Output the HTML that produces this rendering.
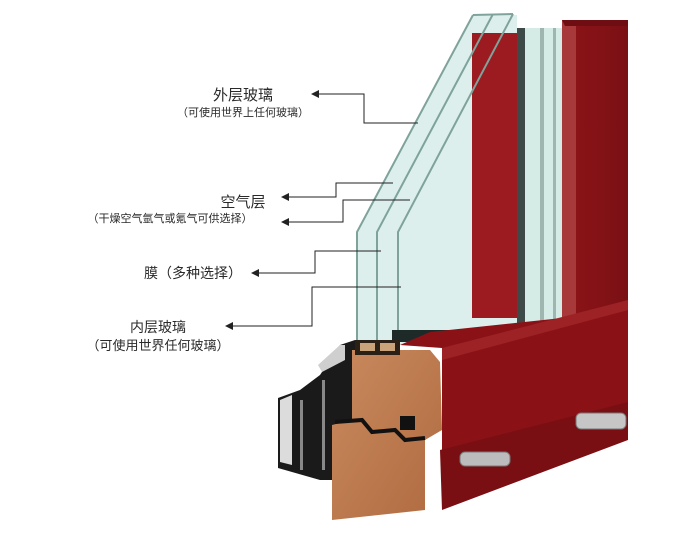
<!DOCTYPE html>
<html><head><meta charset="utf-8"><style>
html,body{margin:0;padding:0;background:#fff;}
svg{display:block}
text{font-family:"Liberation Sans","Noto Sans CJK SC",sans-serif;fill:#2a2a2a}
</style></head><body>
<svg width="689" height="533" viewBox="0 0 689 533" xmlns="http://www.w3.org/2000/svg">
<defs>
<linearGradient id="red" x1="0" y1="0" x2="1" y2="0"><stop offset="0" stop-color="#8e1418"/><stop offset="1" stop-color="#7a1014"/></linearGradient>
<linearGradient id="wood" x1="0" y1="0" x2="1" y2="1"><stop offset="0" stop-color="#c98a5e"/><stop offset="1" stop-color="#b06a40"/></linearGradient>
</defs>
<rect x="562" y="20" width="66" height="420" fill="url(#red)"/>
<rect x="562" y="20" width="14" height="320" fill="#a8393a"/>
<polygon points="562,20 628,20 628,26 565,26" fill="#6e0e12"/>
<rect x="517" y="28" width="45" height="300" fill="#d5ebe6"/>
<rect x="517" y="28" width="8" height="300" fill="#3d4a48"/>
<rect x="540" y="28" width="4" height="300" fill="#9fb5b0"/>
<rect x="553" y="28" width="3" height="300" fill="#9fb5b0"/>
<polygon points="473,15 517,15 517,330 398,345 357,345 357,232" fill="#dcefec"/>
<rect x="472" y="33" width="45" height="285" fill="#9b1b20"/>
<g fill="none" stroke="#7fa39b" stroke-width="2">
<polyline points="473,15 357,232 357,345"/>
<polyline points="493,14 377,232 377,345"/>
<polyline points="513,14 398,232 398,345"/>
<line x1="473" y1="15" x2="513" y2="14"/>
</g>
<rect x="392" y="330" width="170" height="12" fill="#1e2a28"/>
<polygon points="442,348 400,345 430,332 562,318 628,300 628,435 442,505" fill="#8a1217"/>
<polygon points="442,348 628,300 628,310 442,360" fill="#9d2226"/>
<polygon points="440,450 628,402 628,440 442,510" fill="#7a0f13"/>
<polygon points="278,398 300,390 320,375 340,345 355,340 355,480 320,480 278,468" fill="#1a1a1a"/>
<polygon points="280,400 292,395 292,465 280,462" fill="#dcdcdc"/>
<polygon points="318,365 340,345 345,345 345,360 322,372" fill="#cfcfcf"/>
<rect x="300" y="400" width="3" height="70" fill="#888"/>
<rect x="322" y="380" width="3" height="90" fill="#888"/>
<!-- wood single block -->
<polygon points="352,350 430,350 440,362 442,430 425,440 425,510 332,520 332,425 352,420" fill="url(#wood)"/>
<!-- notch -->
<polyline points="335,422 362,420 372,432 395,430 405,440 425,438" fill="none" stroke="#111" stroke-width="4"/>
<rect x="400" y="416" width="15" height="14" fill="#111"/>
<rect x="355" y="340" width="45" height="15" fill="#2a2016"/>
<rect x="360" y="343" width="15" height="8" fill="#c9a37a"/>
<rect x="380" y="343" width="15" height="8" fill="#c9a37a"/>
<rect x="460" y="452" width="50" height="14" rx="5" fill="#bcbcbc" stroke="#777"/>
<rect x="576" y="413" width="50" height="16" rx="5" fill="#c6c6c6" stroke="#777"/>
<g fill="none" stroke="#222" stroke-width="1">
<polyline points="317,94 364,94 364,123 418,123"/>
<polyline points="287,197 336,197 336,183 393,183"/>
<polyline points="287,222 343,222 343,200 410,200"/>
<polyline points="257,273 315,273 315,251 381,251"/>
<polyline points="231,326 312,326 312,287 401,287"/>
</g>
<g fill="#222">
<polygon points="311,94 319,90 319,98"/>
<polygon points="281,197 289,193 289,201"/>
<polygon points="281,222 289,218 289,226"/>
<polygon points="251,273 259,269 259,277"/>
<polygon points="225,326 233,322 233,330"/>
</g>
<text x="243" y="100" font-size="15" text-anchor="middle">外层玻璃</text>
<text x="243" y="116" font-size="11" text-anchor="middle">（可使用世界上任何玻璃）</text>
<text x="243" y="207" font-size="15" text-anchor="middle">空气层</text>
<text x="170" y="222" font-size="11" text-anchor="middle">（干燥空气氩气或氪气可供选择）</text>
<text x="193" y="278" font-size="14" text-anchor="middle">膜（多种选择）</text>
<text x="158" y="332" font-size="14" text-anchor="middle">内层玻璃</text>
<text x="158" y="350" font-size="13" text-anchor="middle">（可使用世界任何玻璃）</text>
</svg>
</body></html>
